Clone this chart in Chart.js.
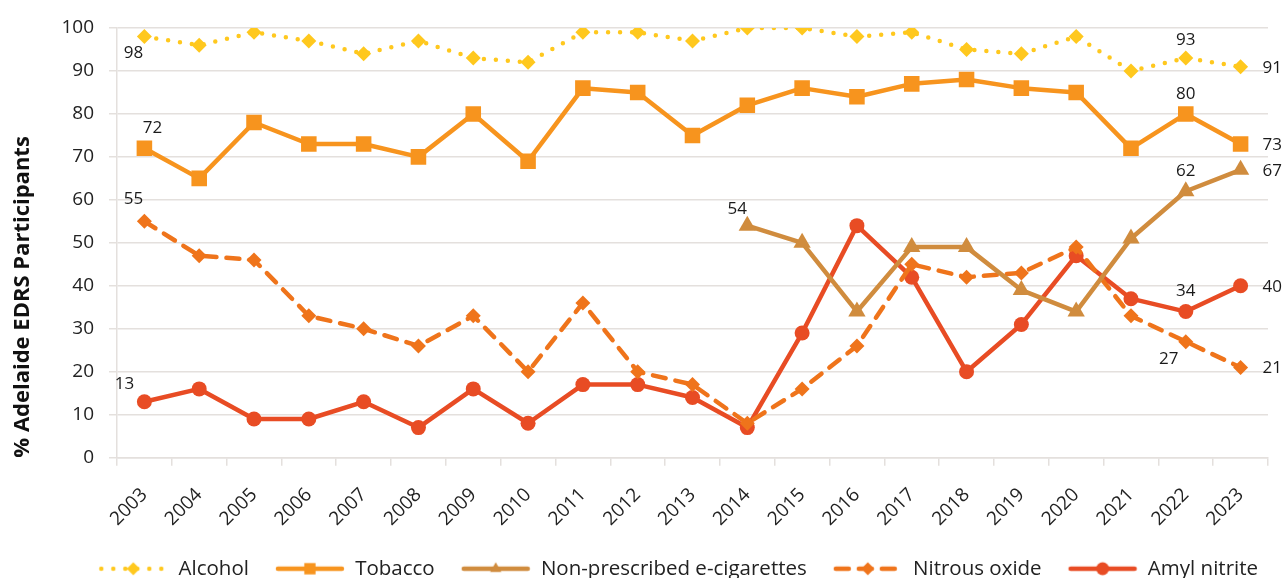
<!DOCTYPE html>
<html>
<head>
<meta charset="utf-8">
<script src="https://cdn.jsdelivr.net/npm/chart.js"></script>
<style>
  body { margin: 0; background: #fff; }
  #wrap { width: 1285px; height: 578px; position: relative; }
</style>
</head>
<body>
<div id="wrap"><canvas id="myChart"></canvas></div>
<script>
const years = ['2003','2004','2005','2006','2007','2008','2009','2010','2011','2012','2013',
               '2014','2015','2016','2017','2018','2019','2020','2021','2022','2023'];
const alcohol = [98, 96, 99, 97, 94, 97, 93, 92, 99, 99, 97, 100, 100, 98, 99, 95, 94, 98, 90, 93, 91];
const tobacco = [72, 65, 78, 73, 73, 70, 80, 69, 86, 85, 75, 82, 86, 84, 87, 88, 86, 85, 72, 80, 73];
const ecigs   = [null, null, null, null, null, null, null, null, null, null, null,
                 54, 50, 34, 49, 49, 39, 34, 51, 62, 67];
const nitrous = [55, 47, 46, 33, 30, 26, 33, 20, 36, 20, 17, 8, 16, 26, 45, 42, 43, 49, 33, 27, 21];
const amyl    = [13, 16, 9, 9, 13, 7, 16, 8, 17, 17, 14, 7, 29, 54, 42, 20, 31, 47, 37, 34, 40];
const yTicks  = [0, 10, 20, 30, 40, 50, 60, 70, 80, 90, 100];

// which points get a value label, and where (dataset, index, dx, dy, align)
const labelSpots = [
  [0, 0, -11, 17, 'center'], [1, 0, 8, -20, 'center'], [3, 0, -11, -22, 'center'], [4, 0, -20, -18, 'center'],
  [2, 11, -10, -16, 'center'],
  [0, 19, 0, -18, 'center'], [1, 19, 0, -20, 'center'], [2, 19, 0, -20, 'center'],
  [4, 19, 0, -20, 'center'], [3, 19, -17, 18, 'center'],
  [0, 20, 22, 1, 'left'], [1, 20, 22, 1, 'left'], [2, 20, 22, 1, 'left'],
  [3, 20, 22, 1, 'left'], [4, 20, 22, 1, 'left']
];

const FONT = "'Open Sans', 'Noto Sans', sans-serif";
Chart.defaults.font.family = FONT;
Chart.defaults.color = '#222';

const gridColor = '#e4e0dd';

// legend sample: empty lead-in on the left gives the gap to the previous item
function legendSymbol(color, dash, style, radius) {
  const lead = 16;
  const c = document.createElement('canvas');
  c.width = lead + 70; c.height = 18;
  const ctx = c.getContext('2d');
  ctx.strokeStyle = color;
  ctx.lineWidth = 4.5;
  ctx.lineCap = 'round';
  ctx.setLineDash(dash);
  ctx.beginPath();
  ctx.moveTo(lead + 3, 9);
  ctx.lineTo(lead + 67, 9);
  ctx.stroke();
  ctx.setLineDash([]);
  ctx.fillStyle = color;
  Chart.helpers.drawPoint(ctx, {pointStyle: style, radius: radius, borderWidth: 0, rotation: 0}, lead + 35, 9);
  return c;
}

const series = [
  {label: 'Alcohol', data: alcohol, color: '#ffc81e', dash: [0, 12], style: 'rectRot', r: 7.5},
  {label: 'Tobacco', data: tobacco, color: '#f7941e', dash: [], style: 'rect', r: 11},
  {label: 'Non-prescribed e-cigarettes', data: ecigs, color: '#d08c3e', dash: [], style: 'triangle', r: 10},
  {label: 'Nitrous oxide', data: nitrous, color: '#ef741b', dash: [13, 10], style: 'rectRot', r: 7.5},
  {label: 'Amyl nitrite', data: amyl, color: '#e84c24', dash: [], style: 'circle', r: 7.5}
];

const valueLabels = {
  id: 'valueLabels',
  afterDatasetsDraw(chart) {
    const ctx = chart.ctx;
    ctx.save();
    ctx.font = '17px ' + FONT;
    ctx.fillStyle = '#1a1a1a';
    ctx.textBaseline = 'middle';
    labelSpots.forEach(([ds, i, dx, dy, align]) => {
      const pt = chart.getDatasetMeta(ds).data[i];
      const v = chart.data.datasets[ds].data[i];
      ctx.textAlign = align;
      ctx.fillText(String(v), pt.x + dx, pt.y + dy);
    });
    ctx.restore();
  }
};

new Chart('myChart', {
  type: 'line',
  data: {
    labels: years,
    datasets: series.map(s => ({
      label: s.label,
      data: s.data,
      borderColor: s.color,
      backgroundColor: s.color,
      pointBackgroundColor: s.color,
      pointBorderColor: s.color,
      pointBorderWidth: 0,
      borderWidth: 4.5,
      borderDash: s.dash,
      borderCapStyle: 'round',
      borderJoinStyle: 'round',
      pointStyle: s.style,
      pointRadius: s.r,
      pointHoverRadius: s.r,
      tension: 0,
      spanGaps: false
    }))
  },
  options: {
    responsive: true,
    maintainAspectRatio: false,
    animation: false,
    layout: {padding: {top: 28, right: 17, left: 10, bottom: -11}},
    plugins: {
      tooltip: {enabled: false},
      legend: {
        position: 'bottom',
        align: 'end',
        labels: {
          usePointStyle: true,
          pointStyleWidth: 86,
          padding: 10,
          font: {size: 20.5},
          color: '#222',
          generateLabels(chart) {
            const items = Chart.defaults.plugins.legend.labels.generateLabels(chart);
            return items.map((it, k) => {
              const s = series[k];
              it.pointStyle = legendSymbol(s.color, s.dash, s.style, s.style === 'rect' ? 8 : 6.5);
              return it;
            });
          }
        }
      }
    },
    scales: {
      x: {
        offset: true,
        grid: {display: true, drawOnChartArea: false, offset: true, color: gridColor, lineWidth: 1.5, tickLength: 8},
        border: {display: true, color: gridColor, width: 1.5},
        ticks: {font: {size: 19}, color: '#222', maxRotation: 45, minRotation: 45, padding: 18}
      },
      y: {
        min: 0,
        max: 100,
        afterBuildTicks(axis) { axis.ticks = yTicks.map(v => ({value: v})); },
        grid: {color: gridColor, lineWidth: 1.5, tickLength: 8},
        border: {display: true, color: gridColor, width: 1.5},
        ticks: {font: {size: 19}, color: '#222', padding: 15},
        title: {
          display: true,
          text: '% Adelaide EDRS Participants',
          align: 'start',
          font: {size: 22, weight: 'bold'},
          color: '#111',
          padding: {top: 0, bottom: 10}
        }
      }
    }
  },
  plugins: [valueLabels]
});
</script>
</body>
</html>
